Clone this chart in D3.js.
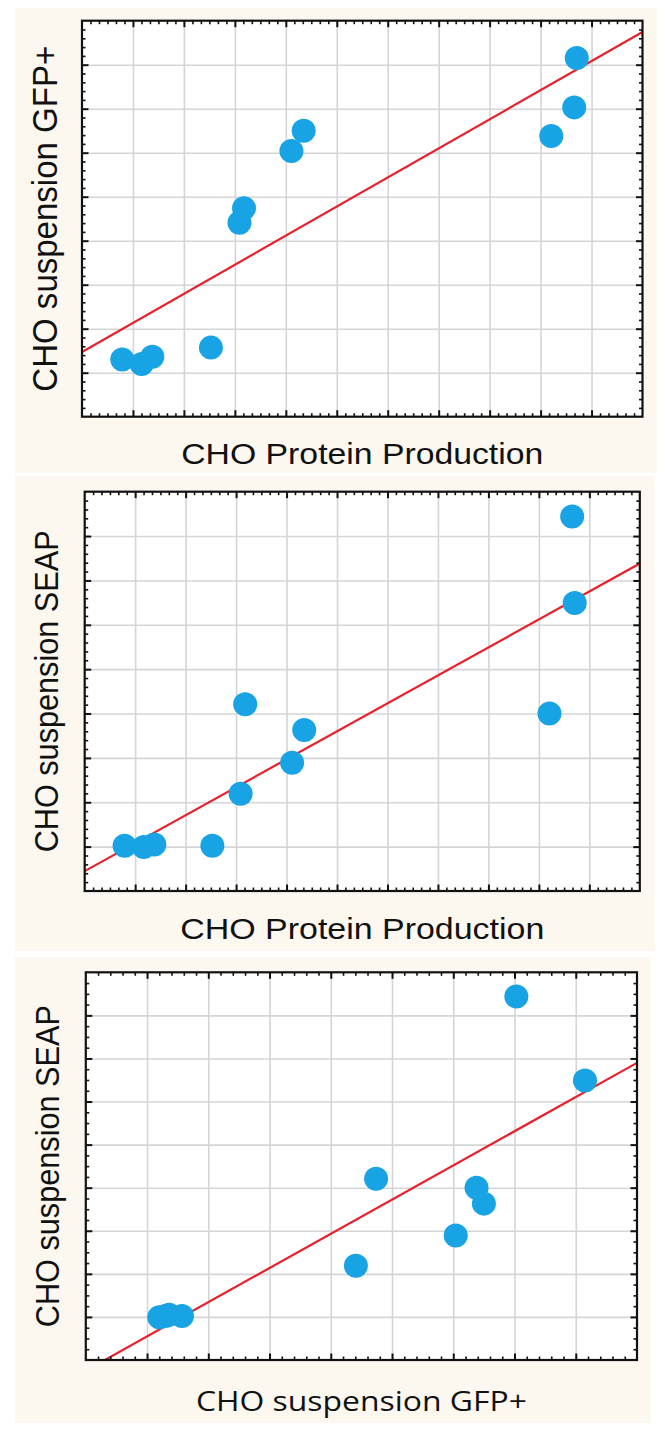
<!DOCTYPE html>
<html><head><meta charset="utf-8">
<script src="https://cdn.jsdelivr.net/npm/d3@7"></script>
<style>html,body{margin:0;padding:0;background:#fff}svg{display:block}</style>
</head><body>
<svg id="chart" width="665" height="1439"></svg>
<script>
// ---- data (arbitrary units) ----
const production = [0.79, 1.17, 1.38, 2.53, 3.09, 3.18, 4.11, 4.35, 9.21, 9.66, 9.71];
const gfpPlus    = [1.30, 1.20, 1.36, 1.57, 4.41, 4.74, 6.04, 6.50, 6.38, 7.03, 8.15];
const seap       = [1.02, 0.99, 1.05, 1.02, 2.19, 4.21, 2.89, 3.63, 4.00, 8.44, 6.49];

const productionDomain = [0, 11];
const gfpDomain = [0, 9];
const seapDomain = [0, 9];
const productionTicks = [1, 2, 3, 4, 5, 6, 7, 8, 9, 10];
const gfpTicks = [1, 2, 3, 4, 5, 6, 7, 8];
const seapTicks = [1, 2, 3, 4, 5, 6, 7, 8];

const labelProduction = "CHO Protein Production";
const labelGfp = "CHO suspension GFP+";
const labelSeap = "CHO suspension SEAP";

// ---- layout ----
const panels = [
  { bg: {x: 15, y: 8, w: 642, h: 465},
    box: {l: 82, r: 642.5, t: 20.7, b: 416.7},
    xs: production, ys: gfpPlus, xDomain: productionDomain, yDomain: gfpDomain,
    xTicks: productionTicks, yTicks: gfpTicks, xSub: 6, ySub: 5,
    xLabel: labelProduction, yLabel: labelGfp,
    xFont: "'Liberation Sans', Arial, sans-serif", xSize: 30, xLen: 362, xBase: 464,
    ySize: 35, yLen: 346, yBase: 57 },
  { bg: {x: 15, y: 476, w: 640, h: 475},
    box: {l: 84.7, r: 639.8, t: 491.7, b: 891},
    xs: production, ys: seap, xDomain: productionDomain, yDomain: seapDomain,
    xTicks: productionTicks, yTicks: seapTicks, xSub: 6, ySub: 5,
    xLabel: labelProduction, yLabel: labelSeap,
    xFont: "'Liberation Sans', Arial, sans-serif", xSize: 30, xLen: 364, xBase: 938.5,
    ySize: 34, yLen: 322, yBase: 58 },
  { bg: {x: 15, y: 957, w: 636, h: 466},
    box: {l: 85.8, r: 637, t: 972.3, b: 1360},
    xs: gfpPlus, ys: seap, xDomain: gfpDomain, yDomain: seapDomain,
    xTicks: gfpTicks, yTicks: seapTicks, xSub: 5, ySub: 4,
    xLabel: labelGfp, yLabel: labelSeap,
    xFont: "'Open Sans', Lato, sans-serif", xSize: 28, xLen: 331, xBase: 1411,
    ySize: 34, yLen: 322, yBase: 58.5 }
];

const svg = d3.select("#chart");
const BG = "#fcf8f0", GRID = "#d5d5d5", AXIS = "#111", DOT = "#17a3e4", LINE = "#e8202c";

function linreg(xs, ys) {
  const mx = d3.mean(xs), my = d3.mean(ys);
  let sxy = 0, sxx = 0;
  xs.forEach((x, i) => { sxy += (x - mx) * (ys[i] - my); sxx += (x - mx) * (x - mx); });
  const slope = sxy / sxx;
  return {slope, intercept: my - slope * mx};
}

function minorValues(domain, sub) {
  const out = [];
  for (let k = domain[0]; k < domain[1]; k++) {
    for (let j = 1; j < sub; j++) out.push(k + j / sub);
  }
  return out;
}

panels.forEach((p, pi) => {
  const g = svg.append("g");
  g.append("rect").attr("x", p.bg.x).attr("y", p.bg.y).attr("width", p.bg.w).attr("height", p.bg.h).attr("fill", BG);

  const x = d3.scaleLinear().domain(p.xDomain).range([p.box.l, p.box.r]);
  const y = d3.scaleLinear().domain(p.yDomain).range([p.box.b, p.box.t]);
  const W = p.box.r - p.box.l, H = p.box.b - p.box.t;

  g.append("rect").attr("x", p.box.l).attr("y", p.box.t).attr("width", W).attr("height", H).attr("fill", "#fff");

  // grid lines
  const gridX = g.append("g").attr("transform", `translate(0,${p.box.b})`)
    .call(d3.axisBottom(x).tickValues(p.xTicks).tickSize(-H).tickFormat(""));
  const gridY = g.append("g").attr("transform", `translate(${p.box.l},0)`)
    .call(d3.axisLeft(y).tickValues(p.yTicks).tickSize(-W).tickFormat(""));
  [gridX, gridY].forEach(a => {
    a.select(".domain").remove();
    a.selectAll("line").attr("stroke", GRID).attr("stroke-width", 1.6);
  });

  // regression line, clipped to the box
  const clipId = "clip" + pi;
  g.append("clipPath").attr("id", clipId).append("rect")
    .attr("x", p.box.l).attr("y", p.box.t).attr("width", W).attr("height", H);
  const r = linreg(p.xs, p.ys);
  const lineData = p.xDomain.map(v => [v, r.intercept + r.slope * v]);
  g.append("path").attr("clip-path", `url(#${clipId})`)
    .attr("d", d3.line().x(d => x(d[0])).y(d => y(d[1]))(lineData))
    .attr("stroke", LINE).attr("stroke-width", 2.2).attr("fill", "none");

  // points
  g.append("g").selectAll("circle").data(p.xs.map((v, i) => [v, p.ys[i]])).join("circle")
    .attr("cx", d => x(d[0])).attr("cy", d => y(d[1])).attr("r", 12).attr("fill", DOT);

  // ticks (inward) on all four sides
  const xMinor = minorValues(p.xDomain, p.xSub), yMinor = minorValues(p.yDomain, p.ySub);
  const tickAxes = [
    [d3.axisBottom, x, `translate(0,${p.box.b})`, p.xTicks, xMinor],
    [d3.axisTop, x, `translate(0,${p.box.t})`, p.xTicks, xMinor],
    [d3.axisLeft, y, `translate(${p.box.l},0)`, p.yTicks, yMinor],
    [d3.axisRight, y, `translate(${p.box.r},0)`, p.yTicks, yMinor]
  ];
  tickAxes.forEach(([axisFn, sc, tr, maj, min]) => {
    const a1 = g.append("g").attr("transform", tr).call(axisFn(sc).tickValues(maj).tickSize(-6.5).tickFormat(""));
    a1.select(".domain").remove();
    a1.selectAll("line").attr("stroke", AXIS).attr("stroke-width", 2);
    const a2 = g.append("g").attr("transform", tr).call(axisFn(sc).tickValues(min).tickSize(-3.5).tickFormat(""));
    a2.select(".domain").remove();
    a2.selectAll("line").attr("stroke", AXIS).attr("stroke-width", 1.6);
  });

  // frame
  g.append("rect").attr("x", p.box.l).attr("y", p.box.t).attr("width", W).attr("height", H)
    .attr("fill", "none").attr("stroke", AXIS).attr("stroke-width", 2.2);

  // axis labels
  g.append("text").attr("x", (p.box.l + p.box.r) / 2).attr("y", p.xBase)
    .attr("text-anchor", "middle").attr("font-family", p.xFont).attr("font-size", p.xSize)
    .attr("fill", "#111").attr("textLength", p.xLen).attr("lengthAdjust", "spacingAndGlyphs")
    .text(p.xLabel);
  g.append("text").attr("transform", `translate(${p.yBase},${(p.box.t + p.box.b) / 2}) rotate(-90)`)
    .attr("text-anchor", "middle").attr("font-family", "'Liberation Sans', Arial, sans-serif")
    .attr("font-size", p.ySize).attr("fill", "#111")
    .attr("textLength", p.yLen).attr("lengthAdjust", "spacingAndGlyphs")
    .text(p.yLabel);
});
</script>
</body></html>
